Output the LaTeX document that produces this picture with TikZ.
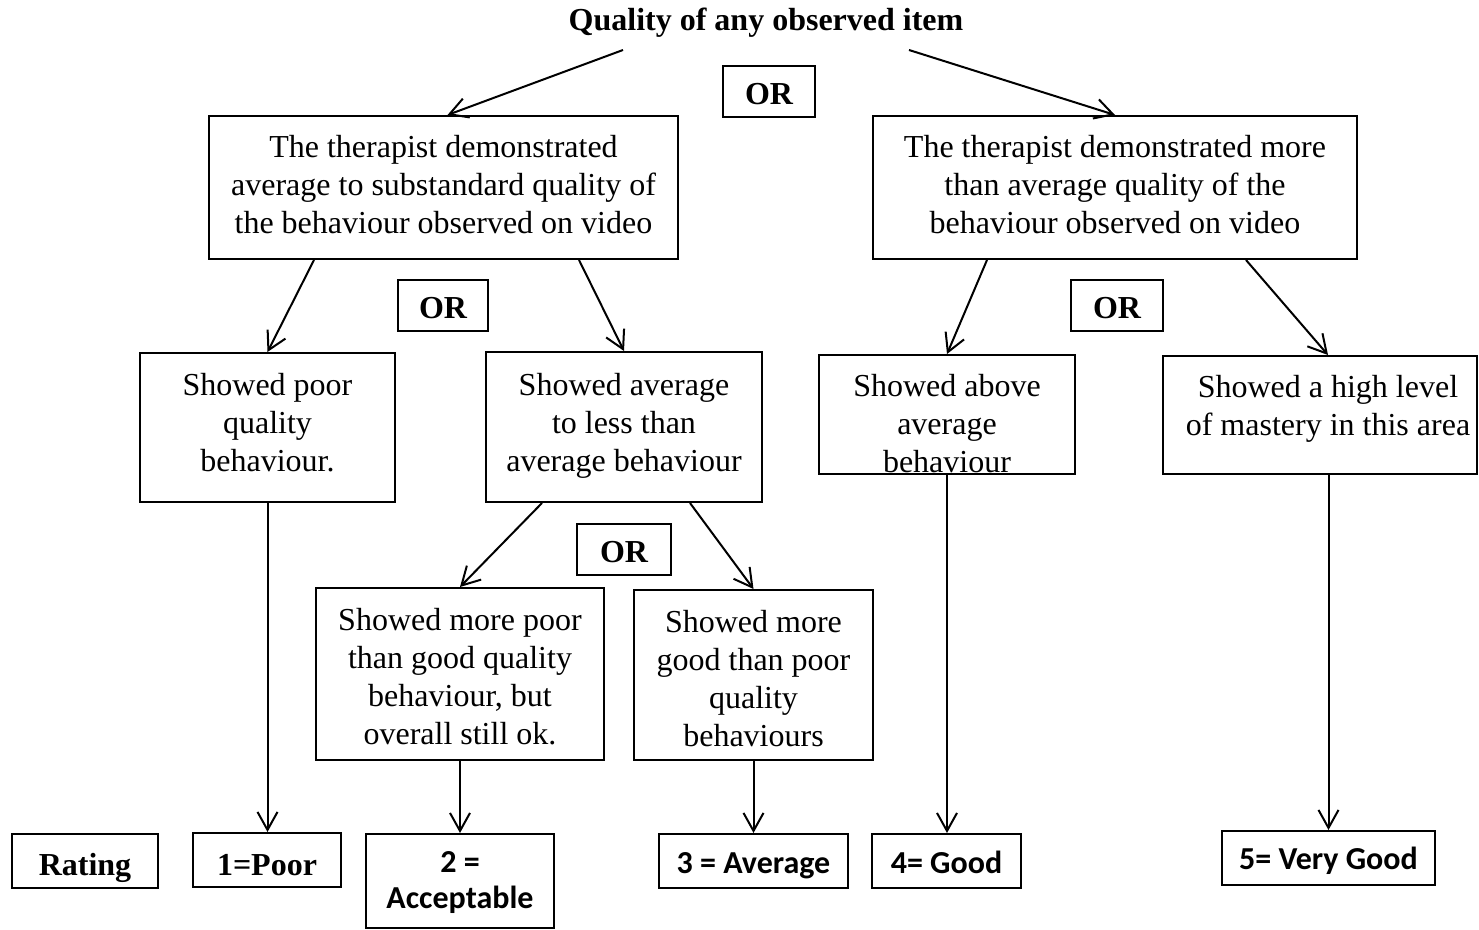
\documentclass[tikz,border=0pt]{standalone}
\usepackage{fontspec}
\setmainfont{Liberation Serif}
\newfontfamily\calfont{Carlito}
\usetikzlibrary{arrows.meta,calc}

\begin{document}
\begin{tikzpicture}[x=0.5pt,y=-0.5pt,
  box/.style={draw, line width=1pt, inner sep=0pt},
  txt/.style={inner sep=0pt, align=center, font=\fontsize{16}{19}\selectfont},
  orbox/.style={draw, line width=1pt, inner sep=0pt,
    font=\fontsize{16}{19}\selectfont\bfseries, minimum height=25.5pt,
    text height=13pt, text depth=0pt},
  serifrate/.style={draw, line width=1pt, inner sep=0pt,
    font=\fontsize{16}{19}\selectfont\bfseries, minimum height=27pt, text depth=0pt},
  rate/.style={draw, line width=1pt, inner sep=0pt,
    font=\calfont\fontsize{16}{18}\selectfont\bfseries, minimum height=27pt, text depth=0pt},
  ratetxt/.style={inner sep=0pt, align=center,
    font=\calfont\fontsize{16}{18}\selectfont\bfseries},
  arr/.style={line width=1pt, -{Straight Barb[length=9pt,width=10pt]}},
]
\useasboundingbox (0,0) rectangle (1479,930);

% heading
\node[inner sep=0pt, font=\fontsize{16}{19}\selectfont\bfseries] (T) at (766,23)
  {Quality of any observed item};

% first level
\node[box, minimum width=234.5pt, minimum height=71.5pt] (A) at (443.5,187.5) {};
\node[txt] (At) at (443.5,188.4)
  {\strut The therapist demonstrated\\average to substandard quality of\\the behaviour observed on video\strut};
\node[box, minimum width=242pt, minimum height=71.5pt] (B) at (1115,187.5) {};
\node[txt] (Bt) at (1115,188.4)
  {\strut The therapist demonstrated more\\than average\ quality of the\\behaviour observed on video\strut};

% OR markers
\node[orbox, minimum width=46pt] (or1) at (769,92) {OR};
\node[orbox, minimum width=45pt] (or2) at (443,305.5) {OR};
\node[orbox, minimum width=46pt] (or3) at (1117,305.5) {OR};
\node[orbox, minimum width=47pt] (or4) at (624,549.5) {OR};

% second level
\node[box, minimum width=127.5pt, minimum height=74.5pt] (C) at (267.5,427.5) {};
\node[txt] (Ct) at (267.5,426) {\strut Showed poor\\quality\\behaviour.\strut};
\node[box, minimum width=138pt, minimum height=75pt] (D) at (624,427) {};
\node[txt] (Dt) at (624,426) {\strut Showed average\\to less than\\average\ behaviour\strut};
\node[box, minimum width=128pt, minimum height=59.5pt] (E) at (947,414.5) {};
\node[txt] (Et) at (947,427.4) {\strut Showed above\\average\\behaviour\strut};
\node[box, minimum width=157pt, minimum height=59pt] (F) at (1320,415) {};
\node[txt] (Ft) at (1328,409.4) {\strut Showed a high level\\of mastery in this area\strut};

% third level
\node[box, minimum width=144pt, minimum height=86pt] (G) at (460,674) {};
\node[txt] (Gt) at (460,679.4)
  {\strut Showed more poor\\than good quality\\behaviour, but\\overall\ still\ ok.\strut};
\node[box, minimum width=119.5pt, minimum height=85pt] (H) at (753.5,675) {};
\node[txt] (Ht) at (753.5,682)
  {\strut Showed more\\good than poor\\quality\\behaviours\strut};

% rating row
\node[serifrate, minimum width=73pt, text height=14pt] (rating) at (85,861) {Rating};
\node[serifrate, minimum width=74pt, text height=15pt] (R1) at (267,860) {1=Poor};
\node[box, minimum width=94pt, minimum height=47pt] (R2) at (460,881) {};
\node[ratetxt] (R2t) at (460,883) {\strut 2 =\\Acceptable\strut};
\node[rate, minimum width=94.5pt, text height=12pt] (R3) at (753.5,861) {3 = Average};
\node[rate, minimum width=74.5pt, text height=12pt] (R4) at (946.5,861) {4= Good};
\node[rate, minimum width=106.5pt, text height=11pt] (R5) at (1328.5,858) {5= Very Good};

% connectors
\draw[arr] ([shift={(-143,27)}]T.center) -- ([shift={(4,0)}]A.north);
\draw[arr] ([shift={(143,27)}]T.center) -- (B.north);
\draw[arr] ([shift={(106,0)}]A.south west) -- (C.north);
\draw[arr] ([shift={(-100,0)}]A.south east) -- (D.north);
\draw[arr] ([shift={(115,0)}]B.south west) -- (E.north);
\draw[arr] ([shift={(-112,0)}]B.south east) -- ([shift={(8,0)}]F.north);
\draw[arr] ([shift={(57,0)}]D.south west) -- (G.north);
\draw[arr] ([shift={(-73,0)}]D.south east) -- (H.north);
\draw[arr] (C.south) -- (C.south |- R1.north);
\draw[arr] (G.south) -- (G.south |- R2.north);
\draw[arr] (H.south) -- (H.south |- R3.north);
\draw[arr] (E.south) -- (E.south |- R4.north);
\draw[arr] (R5.north |- F.south) -- (R5.north);
\end{tikzpicture}
\end{document}
